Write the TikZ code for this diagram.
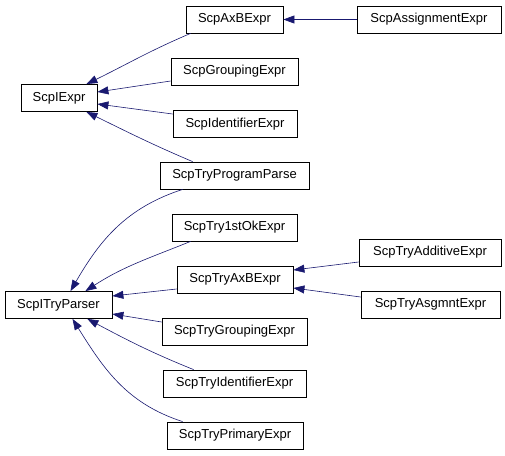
\documentclass[tikz,border=0pt]{standalone}
\usepackage{fontspec}
\setmainfont{Liberation Sans}
\usetikzlibrary{arrows.meta}

\definecolor{edgeblue}{RGB}{25,25,112}

\begin{document}
\begin{tikzpicture}[x=1pt, y=-1pt,
    cls/.style={draw, line width=0.8pt, minimum height=27pt, inner sep=0pt,
                font=\fontsize{13}{15}\selectfont},
    edge/.style={-{Triangle[length=11pt,width=8pt]}, draw=edgeblue, line width=0.6pt}
]
\useasboundingbox (0,0) rectangle (505,455);

% Base classes
\node[cls, minimum width=76pt] (iexpr) at (59,98) {ScpIExpr};
\node[cls, minimum width=107pt] (itry) at (58.5,305) {ScpITryParser};

% Middle column
\node[cls, minimum width=97pt] (axb) at (234.5,19.5) {ScpAxBExpr};
\node[cls, minimum width=127pt] (grouping) at (234.5,71.5) {ScpGroupingExpr};
\node[cls, minimum width=124pt] (ident) at (235,124) {ScpIdentifierExpr};
\node[cls, minimum width=149pt] (progparse) at (234.5,175.5) {ScpTryProgramParse};
\node[cls, minimum width=125pt] (firstok) at (234.5,227.5) {ScpTry1stOkExpr};
\node[cls, minimum width=116pt] (tryaxb) at (235,279.5) {ScpTryAxBExpr};
\node[cls, minimum width=145pt] (trygroup) at (234.5,331.5) {ScpTryGroupingExpr};
\node[cls, minimum width=143pt] (tryident) at (234.5,383.5) {ScpTryIdentifierExpr};
\node[cls, minimum width=136pt] (tryprim) at (235,435.5) {ScpTryPrimaryExpr};

% Right column
\node[cls, minimum width=144pt] (assign) at (429,19.5) {ScpAssignmentExpr};
\node[cls, minimum width=142pt] (additive) at (430,252.5) {ScpTryAdditiveExpr};
\node[cls, minimum width=139pt] (asgmnt) at (430.5,304.5) {ScpTryAsgmntExpr};

% Inheritance: ScpIExpr
\draw[edge] ([xshift=5pt]axb.south west) to[out=203, in=26] ([xshift=-11pt]iexpr.north east);
\draw[edge] ([yshift=-9.5pt]grouping.west) -- ([yshift=6pt]iexpr.east);
\draw[edge] ([yshift=10pt]ident.west) -- ([yshift=-6pt]iexpr.east);
\draw[edge] ([xshift=33pt]progparse.north west) to[out=157, in=-26] ([xshift=-11pt]iexpr.south east);

% Inheritance: ScpITryParser
\draw[edge] ([xshift=23pt]progparse.south west) to[out=198, in=60] ([xshift=12pt]itry.north);
\draw[edge] ([xshift=19pt]firstok.south west) to[out=202, in=33] ([xshift=-27pt]itry.north east);
\draw[edge] ([yshift=-9.5pt]tryaxb.west) -- ([yshift=9pt]itry.east);
\draw[edge] ([yshift=9.5pt]trygroup.west) -- ([yshift=-9pt]itry.east);
\draw[edge] ([xshift=31pt]tryident.north west) to[out=158, in=-28] ([xshift=-25pt]itry.south east);
\draw[edge] ([xshift=16pt]tryprim.north west) to[out=162, in=-58] ([xshift=14pt]itry.south);

% Inheritance: right column
\draw[edge] (assign.west) -- (axb.east);
\draw[edge] ([yshift=-9.5pt]additive.west) -- ([yshift=9.5pt]tryaxb.east);
\draw[edge] ([yshift=7.5pt]asgmnt.west) -- ([yshift=-8.5pt]tryaxb.east);

\end{tikzpicture}
\end{document}
